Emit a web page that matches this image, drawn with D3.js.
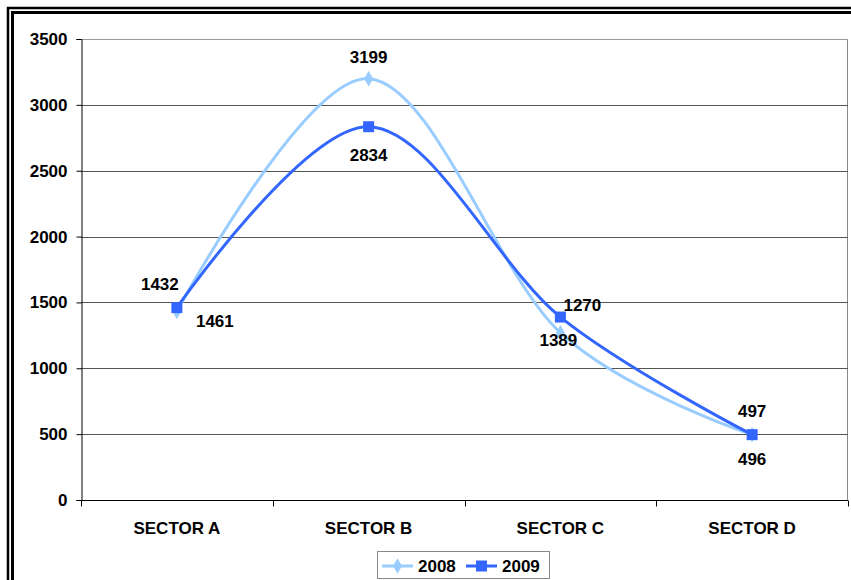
<!DOCTYPE html>
<html>
<head>
<meta charset="utf-8">
<script src="https://cdn.jsdelivr.net/npm/d3@7"></script>
<style>
  body { margin: 0; background: #fff; }
  svg { display: block; font-family: Arial, "Liberation Sans", sans-serif; font-weight: bold; }
</style>
</head>
<body>
<svg id="chart" width="851" height="580"></svg>
<script>
// chart data
var sectors = ["SECTOR A", "SECTOR B", "SECTOR C", "SECTOR D"];
var values2008 = [1432, 3199, 1270, 497];
var values2009 = [1461, 2834, 1389, 496];
var yTicks = [0, 500, 1000, 1500, 2000, 2500, 3000, 3500];
var seriesNames = ["2008", "2009"];

// label nudges (as placed in the original)
var nudge2008 = [[-17, -21], [0, -16], [22, -22], [0, -18]];
var nudge2009 = [[38, 19], [0, 34], [-2, 29], [0, 30]];

var FS = 17;
var svg = d3.select("#chart");
var W = 851, H = 580;
var plot = { left: 81, right: 848, top: 39, bottom: 500 };

// outer double frame
svg.append("rect").attr("x", 8).attr("y", 8).attr("width", W + 20).attr("height", H + 20)
    .attr("fill", "none").attr("stroke", "#000").attr("stroke-width", 2.5);
svg.append("rect").attr("x", 12.5).attr("y", 12.5).attr("width", W + 20).attr("height", H + 20)
    .attr("fill", "none").attr("stroke", "#000").attr("stroke-width", 3);

var x = d3.scaleBand().domain(sectors).range([plot.left, plot.right]);
var y = d3.scaleLinear().domain([0, 3500]).range([plot.bottom, plot.top]);

// plot area border on the right
svg.append("line").attr("x1", plot.right - 0.5).attr("x2", plot.right - 0.5)
    .attr("y1", plot.top).attr("y2", plot.bottom).attr("stroke", "#888").attr("stroke-width", 1);

// gridlines
svg.append("g").selectAll("line").data(yTicks.filter(function (d) { return d > 0; }))
    .enter().append("line")
    .attr("x1", plot.left).attr("x2", plot.right)
    .attr("y1", function (d) { return Math.round(y(d)) + 0.5; })
    .attr("y2", function (d) { return Math.round(y(d)) + 0.5; })
    .attr("stroke", function (d) { return d === 3500 ? "#9a9a9a" : "#555"; })
    .attr("stroke-width", 1);

// y axis
var yAxis = svg.append("g").attr("transform", "translate(" + (plot.left + 0.5) + ",0)")
    .call(d3.axisLeft(y).tickValues(yTicks).tickSize(5).tickPadding(9).tickFormat(d3.format("d")));
yAxis.select(".domain").attr("stroke", "#000");
yAxis.selectAll("text").attr("font-size", FS).attr("font-weight", "bold").attr("fill", "#000")
    .attr("font-family", "Arial, 'Liberation Sans', sans-serif");

// x axis with tick marks on band edges
var xg = svg.append("g").attr("transform", "translate(0," + (plot.bottom + 0.5) + ")");
xg.append("line").attr("x1", plot.left).attr("x2", plot.right).attr("stroke", "#000");
var edges = sectors.map(function (s) { return x(s); }).concat([plot.right]);
xg.selectAll("line.tick").data(edges).enter().append("line")
    .attr("class", "tick")
    .attr("x1", function (d) { return Math.round(d) + 0.5; })
    .attr("x2", function (d) { return Math.round(d) + 0.5; })
    .attr("y1", 0).attr("y2", 6).attr("stroke", "#000");
xg.selectAll("text").data(sectors).enter().append("text")
    .attr("x", function (d) { return x(d) + x.bandwidth() / 2; })
    .attr("y", 33)
    .attr("text-anchor", "middle").attr("font-size", FS).attr("fill", "#000")
    .text(function (d) { return d; });

// series
var colors = ["#99ccff", "#3366ff"];
var series = [values2008, values2009];
var nudges = [nudge2008, nudge2009];
var line = d3.line()
    .x(function (d, i) { return x(sectors[i]) + x.bandwidth() / 2; })
    .y(function (d) { return y(d); })
    .curve(d3.curveCatmullRom.alpha(0));

series.forEach(function (vals, k) {
    svg.append("path").datum(vals).attr("d", line)
        .attr("fill", "none").attr("stroke", colors[k]).attr("stroke-width", 3);
});

// markers
var diamond = d3.symbol().type(d3.symbolDiamond).size(70);
svg.append("g").selectAll("path").data(values2008).enter().append("path")
    .attr("d", diamond)
    .attr("transform", function (d, i) { return "translate(" + (x(sectors[i]) + x.bandwidth() / 2) + "," + y(d) + ")"; })
    .attr("fill", colors[0]);
svg.append("g").selectAll("rect").data(values2009).enter().append("rect")
    .attr("x", function (d, i) { return x(sectors[i]) + x.bandwidth() / 2 - 5.5; })
    .attr("y", function (d) { return y(d) - 5.5; })
    .attr("width", 11).attr("height", 11)
    .attr("fill", colors[1]);

// data labels
series.forEach(function (vals, k) {
    svg.append("g").selectAll("text").data(vals).enter().append("text")
        .attr("x", function (d, i) { return x(sectors[i]) + x.bandwidth() / 2 + nudges[k][i][0]; })
        .attr("y", function (d, i) { return y(d) + nudges[k][i][1]; })
        .attr("text-anchor", "middle").attr("font-size", FS).attr("fill", "#000")
        .text(function (d) { return d; });
});

// legend
var lg = svg.append("g");
lg.append("rect").attr("x", 377.5).attr("y", 551.5).attr("width", 172).attr("height", 27)
    .attr("fill", "#fff").attr("stroke", "#888");
var legendX = [382, 466];
seriesNames.forEach(function (name, k) {
    var x0 = legendX[k];
    lg.append("line").attr("x1", x0).attr("x2", x0 + 31).attr("y1", 566).attr("y2", 566)
        .attr("stroke", colors[k]).attr("stroke-width", 3);
    if (k === 0) {
        lg.append("path").attr("d", diamond).attr("transform", "translate(" + (x0 + 15.5) + ",566)")
            .attr("fill", colors[k]);
    } else {
        lg.append("rect").attr("x", x0 + 10).attr("y", 560.5).attr("width", 11).attr("height", 11)
            .attr("fill", colors[k]);
    }
    lg.append("text").attr("x", x0 + 36).attr("y", 572).attr("font-size", FS).attr("fill", "#000")
        .text(name);
});
</script>
</body>
</html>
